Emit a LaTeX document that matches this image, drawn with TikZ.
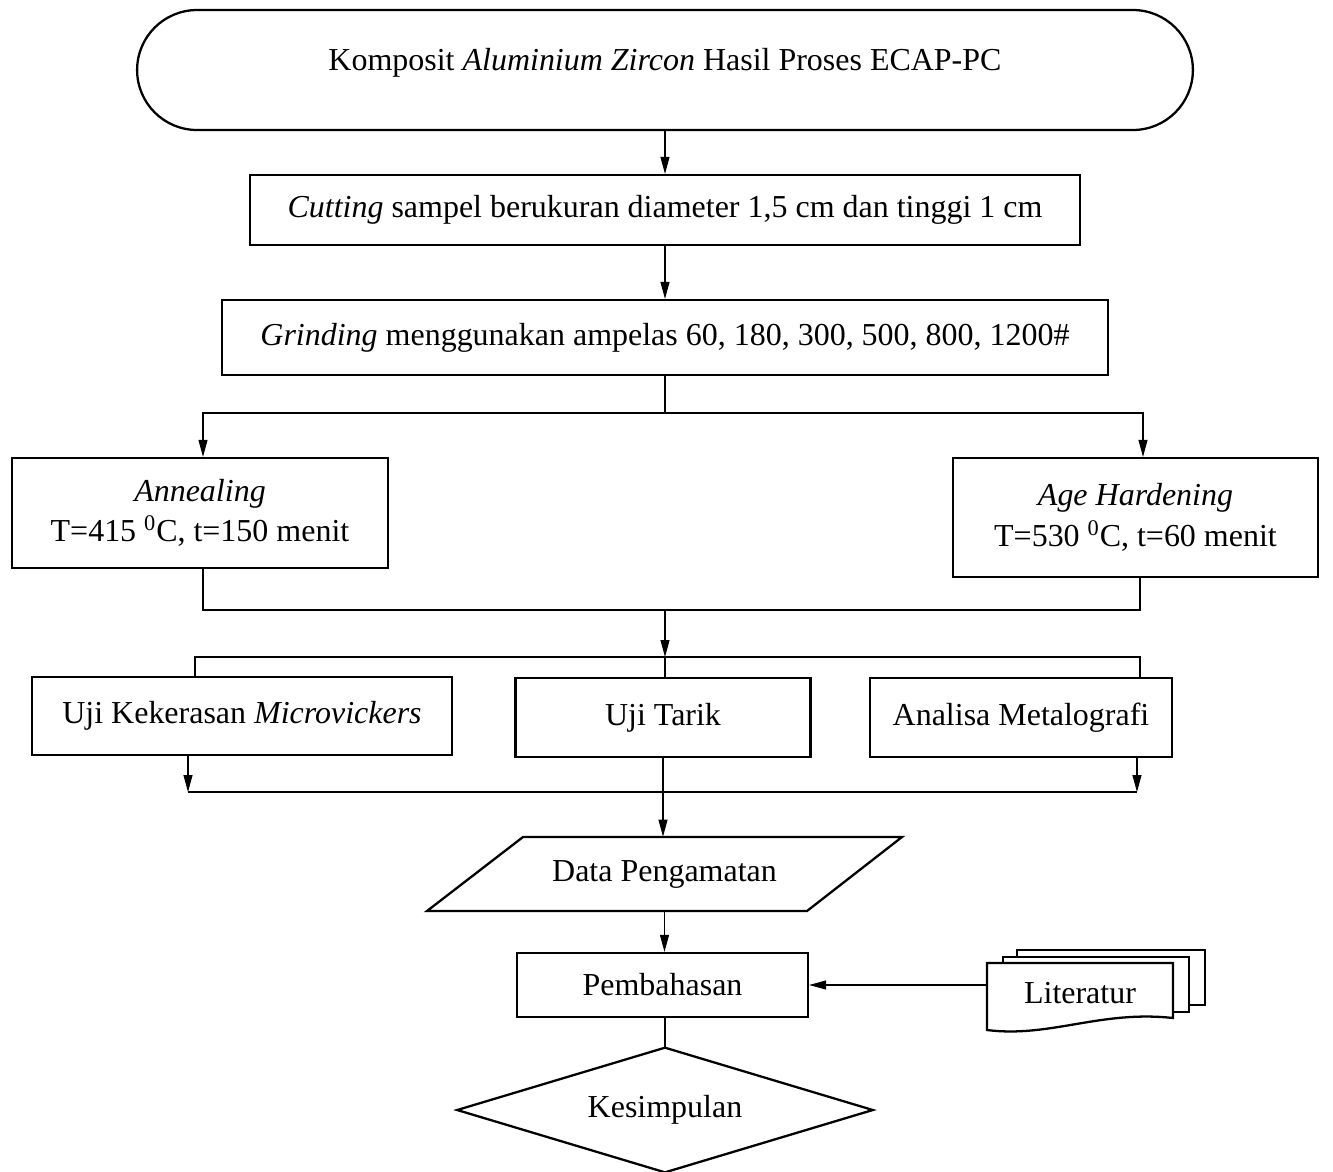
\documentclass[tikz,border=0pt]{standalone}
\usepackage{fontspec}
\setmainfont{Liberation Serif}
\usetikzlibrary{arrows.meta}
\usetikzlibrary{shapes.geometric,shapes.misc}
\usetikzlibrary{calc,positioning}

\begin{document}
\begin{tikzpicture}[>={Triangle[length=0.34cm,width=0.18cm]}, x=0.02cm, y=-0.02cm,
    font=\fontsize{18.2}{23}\selectfont,
    box/.style={draw, line width=1.3pt, inner sep=0pt, align=center},
    conn/.style={line width=0.6pt}]

    \useasboundingbox (0,0) rectangle (1333,1171);

    \node[box, rounded rectangle, minimum width=21.12cm, minimum height=2.4cm, text depth=0.42cm] (mulai) at (665,70) {Komposit \textit{Aluminium Zircon} Hasil Proses ECAP-PC};
    \node[box, minimum width=16.6cm, minimum height=1.4cm] (cut) at (665,210) {\textit{Cutting} sampel berukuran diameter 1,5 cm dan tinggi 1 cm};
    \node[box, minimum width=17.72cm, minimum height=1.5cm] (grind) at (665,337.5) {\textit{Grinding} menggunakan ampelas 60, 180, 300, 500, 800, 1200\#};

    \node[box, minimum width=7.52cm, minimum height=2.2cm] (ann) at (200,513) {\textit{Annealing}\\T=415 \textsuperscript{0}C, t=150 menit};
    \node[box, minimum width=7.3cm, minimum height=2.38cm] (age) at (1135.5,517.5) {\textit{Age Hardening}\\T=530 \textsuperscript{0}C, t=60 menit};

    \node[box, minimum width=8.4cm, minimum height=1.56cm] (uji1) at (242,716) {Uji Kekerasan \textit{Microvickers}};
    \node[box, minimum width=5.9cm, minimum height=1.58cm] (uji2) at (663,717.5) {Uji Tarik};
    \node[box, minimum width=6.04cm, minimum height=1.58cm] (uji3) at (1021,717.5) {Analisa Metalografi};

    % data pengamatan (jajaran genjang)
    \node[minimum width=9.5cm, minimum height=1.48cm, inner sep=0pt] (data) at (664.5,874) {Data Pengamatan};
    \draw[line width=1.3pt] (427,911) -- (523,837) -- (902,837) -- (807,911) -- cycle;

    \node[box, minimum width=5.82cm, minimum height=1.28cm] (bahas) at (662.5,985) {Pembahasan};

    % literatur (multi dokumen)
    \draw[line width=1.3pt, fill=white] (1017,950) -- (1205,950) -- (1205,1005) -- (1017,1005) -- cycle;
    \draw[line width=1.3pt, fill=white] (1003,957) -- (1189,957) -- (1189,1012) -- (1003,1012) -- cycle;
    \draw[line width=1.3pt, fill=white] (987,963) -- (1173,963) -- (1173,1018)
        .. controls (1100,1010) and (1050,1038) .. (987,1030) -- cycle;
    \node[minimum width=3.72cm, inner sep=0pt] (lit) at (1080,993) {Literatur};

    % kesimpulan (belah ketupat)
    \node[minimum width=8.3cm, minimum height=2.48cm, inner sep=0pt] (kes) at (665,1110) {Kesimpulan};
    \draw[line width=1.3pt] (kes.north) -- (kes.east) -- (kes.south) -- (kes.west) -- cycle;

    % connectors
    \draw[conn,->] (mulai.south) -- (cut.north);
    \draw[conn,->] (cut.south) -- (grind.north);

    \coordinate (split) at (665,413);
    \draw[conn] (grind.south) -- (split);
    \draw[conn,->] (split) -| ([xshift=0.06cm]ann.north);
    \draw[conn,->] (split) -| ([xshift=0.15cm]age.north);

    \coordinate (join) at (665,610);
    \draw[conn] ([xshift=0.06cm]ann.south) |- (join);
    \draw[conn] ([xshift=0.09cm]age.south) |- (join);
    \draw[conn,->] (join) -- ++(0,47) coordinate (split2);
    \draw[conn] (split2) -| ([xshift=-0.94cm]uji1.north);
    \draw[conn] (split2) -- (split2 |- uji2.north);
    \draw[conn] (split2) -| ([xshift=2.38cm]uji3.north);

    \coordinate (gab) at (665,792);
    \draw[conn,->] ([xshift=-1.08cm]uji1.south) -- ([xshift=-1.08cm]uji1.south |- gab);
    \draw[conn,->] ([xshift=2.32cm]uji3.south) -- ([xshift=2.32cm]uji3.south |- gab);
    \draw[conn] ([xshift=-1.08cm]uji1.south |- gab) -- ([xshift=2.32cm]uji3.south |- gab);
    \draw[conn,->] (uji2.south) -- (uji2.south |- data.north);

    \draw[conn,->] (data.south) -- (data.south |- bahas.north);
    \draw[conn,->] (lit.west |- bahas.east) -- (bahas.east);
    \draw[conn] (bahas.south -| kes.north) -- (kes.north);

\end{tikzpicture}
\end{document}
